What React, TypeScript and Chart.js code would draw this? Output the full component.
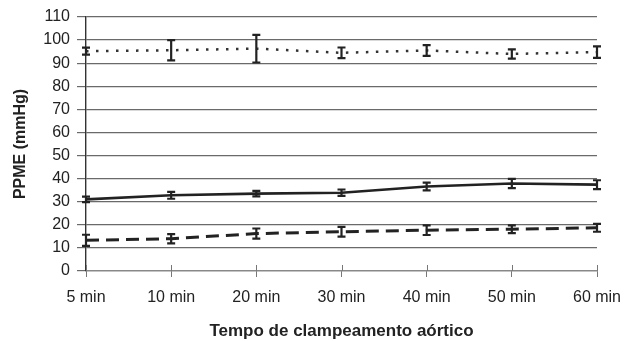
import React, { useEffect, useRef } from "react";
import { Chart, registerables } from "chart.js";

Chart.register(...registerables);

const categories = ["5 min", "10 min", "20 min", "30 min", "40 min", "50 min", "60 min"];

const dottedValues = [95.2, 95.6, 96.3, 94.5, 95.5, 94.0, 94.8];
const dottedErrors = [1.5, 4.4, 6.0, 2.3, 2.3, 2.0, 2.5];

const solidValues = [31.0, 32.8, 33.5, 33.9, 36.6, 37.9, 37.4];
const solidErrors = [1.2, 1.5, 1.2, 1.4, 1.7, 2.0, 1.9];

const dashedValues = [13.3, 14.0, 16.2, 17.0, 17.7, 18.1, 18.7];
const dashedErrors = [2.4, 2.0, 2.2, 2.1, 2.1, 1.7, 1.7];

const yMin = 0;
const yMax = 110;
const yStep = 10;

const FONT = "'Liberation Sans', Arial, sans-serif";
const INK = "#222222";

const errorBarPlugin = {
  id: "errorBars",
  afterDatasetsDraw(chart: any) {
    const { ctx, scales } = chart;
    const xs = scales.x;
    const ys = scales.y;
    ctx.save();
    // crossing tick marks on x axis (upper half)
    ctx.strokeStyle = "#777777";
    ctx.lineWidth = 1;
    categories.forEach((_, i) => {
      const x = Math.round(xs.getPixelForValue(i)) + 0.5;
      const y0 = ys.getPixelForValue(yMin);
      ctx.beginPath();
      ctx.moveTo(x, y0 - 6);
      ctx.lineTo(x, y0);
      ctx.stroke();
    });
    chart.data.datasets.forEach((ds: any) => {
      const errs: number[] = ds.errorBars || [];
      ctx.strokeStyle = INK;
      ctx.lineWidth = 2.2;
      ds.data.forEach((v: number, i: number) => {
        const e = errs[i];
        if (e == null) return;
        const x = xs.getPixelForValue(i);
        const yt = ys.getPixelForValue(v + e);
        const yb = ys.getPixelForValue(v - e);
        ctx.beginPath();
        ctx.moveTo(x, yt);
        ctx.lineTo(x, yb);
        ctx.moveTo(x - 4, yt);
        ctx.lineTo(x + 4, yt);
        ctx.moveTo(x - 4, yb);
        ctx.lineTo(x + 4, yb);
        ctx.stroke();
      });
    });
    ctx.restore();
  },
};

export default function App() {
  const canvasRef = useRef<HTMLCanvasElement | null>(null);

  useEffect(() => {
    if (!canvasRef.current) return;
    const chart = new Chart(canvasRef.current, {
      type: "line",
      data: {
        labels: categories,
        datasets: [
          {
            label: "A",
            data: dottedValues,
            errorBars: dottedErrors,
            borderColor: "#333333",
            borderWidth: 2.5,
            borderDash: [2.5, 7.5],
            pointRadius: 0,
            tension: 0,
            fill: false,
          } as any,
          {
            label: "B",
            data: solidValues,
            errorBars: solidErrors,
            borderColor: INK,
            borderWidth: 2.6,
            pointRadius: 0,
            tension: 0,
            fill: false,
          } as any,
          {
            label: "C",
            data: dashedValues,
            errorBars: dashedErrors,
            borderColor: INK,
            borderWidth: 3,
            borderDash: [13, 7],
            pointRadius: 0,
            tension: 0,
            fill: false,
          } as any,
        ],
      },
      options: {
        animation: false,
        responsive: true,
        maintainAspectRatio: false,
        layout: { padding: { top: 17, right: 27, bottom: 0, left: 0 } },
        plugins: {
          legend: { display: false },
          tooltip: { enabled: false },
        },
        scales: {
          x: {
            type: "category",
            offset: false,
            grid: {
              display: true,
              drawOnChartArea: false,
              drawTicks: true,
              tickLength: 6,
              color: "#777777",
              lineWidth: 1,
            },
            border: { display: true, color: "#888888", width: 1.2 },
            ticks: {
              color: INK,
              font: { family: FONT, size: 16 },
              padding: 11,
              maxRotation: 0,
              autoSkip: false,
            },
            title: {
              display: true,
              text: "Tempo de clampeamento aórtico",
              color: INK,
              font: { family: FONT, size: 17, weight: "bold" },
              padding: { top: 0, bottom: -1 },
            },
            afterFit(scale: any) {
              scale.height = 70;
              scale.paddingLeft = 0;
              scale.paddingRight = 0;
            },
          },
          y: {
            min: yMin,
            max: yMax,
            ticks: {
              stepSize: yStep,
              color: INK,
              font: { family: FONT, size: 16 },
              padding: 7,
            },
            grid: {
              color: "#6a6a6a",
              lineWidth: 1.2,
              drawTicks: true,
              tickLength: 9,
            },
            border: { display: true, color: "#333333", width: 1.4 },
            title: {
              display: true,
              text: "PPME (mmHg)",
              color: INK,
              font: { family: FONT, size: 16, weight: "bold" },
              padding: { top: 11, bottom: 0 },
            },
            afterFit(scale: any) {
              scale.width = 86;
              scale.paddingTop = 0;
              scale.paddingBottom = 0;
            },
          },
        },
      } as any,
      plugins: [errorBarPlugin],
    });
    return () => chart.destroy();
  }, []);

  return (
    <div style={{ position: "fixed", left: 0, top: 0, width: 624, height: 341, background: "#ffffff" }}>
      <canvas ref={canvasRef} />
    </div>
  );
}
